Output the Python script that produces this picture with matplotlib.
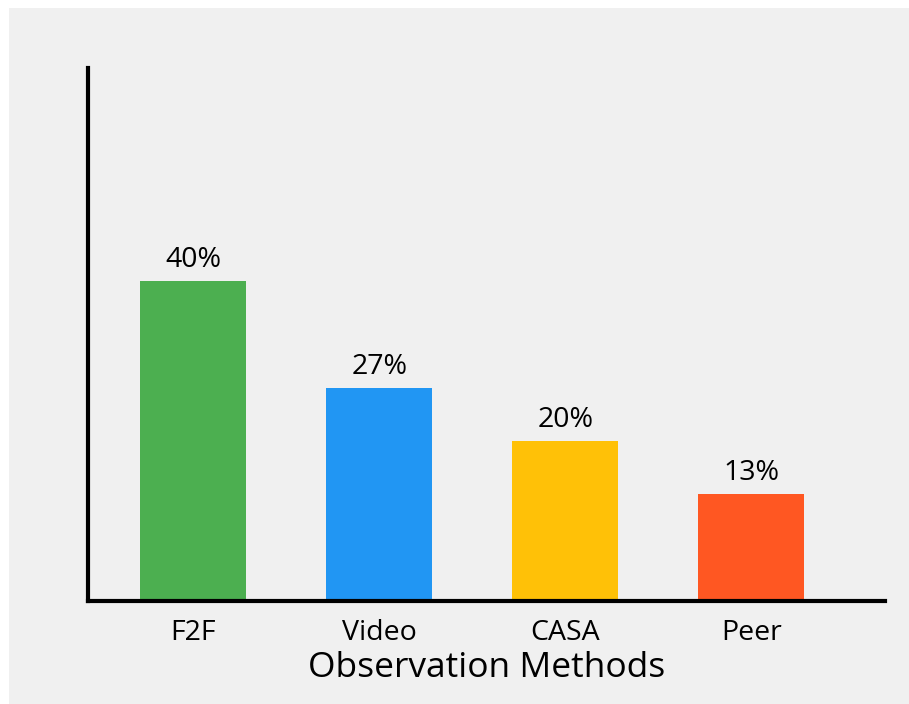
import matplotlib
matplotlib.use("Agg")
import matplotlib.pyplot as plt
from matplotlib.patches import Rectangle

categories = ["F2F", "Video", "CASA", "Peer"]
counts = [6, 4, 3, 2]
total = 15
colors = ["#4CAF50", "#2196F3", "#FFC107", "#FF5722"]
xlabel = "Observation Methods"

plt.rcParams['font.family'] = ['Open Sans', 'DejaVu Sans']

fig = plt.figure(figsize=(9.09, 7.04), dpi=100, facecolor="white")
bg = "#f0f0f0"
fig.patches.append(Rectangle((9/909, 0), 1, 1 - 8/704, transform=fig.transFigure,
                             facecolor=bg, edgecolor="none", zorder=-10))

ax = fig.add_axes([88/909, (704-601)/704, (885-88)/909, (601-68)/704])
ax.set_facecolor("none")

x = list(range(len(categories)))
bars = ax.bar(x, counts, width=0.57, color=colors)
for xi, c in zip(x, counts):
    ax.text(xi, c + 0.13, f"{round(100*c/total)}%", ha="center", va="bottom", fontsize=20.5)

ax.set_xlim(-0.565, 3.718)
ax.set_ylim(0, 10)
ax.set_xticks(x)
ax.set_xticklabels(categories, fontsize=20.5)
ax.tick_params(axis="x", length=0, pad=13)
ax.set_yticks([])
ax.set_xlabel(xlabel, fontsize=25.5, labelpad=3)

for s in ["top", "right"]:
    ax.spines[s].set_visible(False)
for s in ["left", "bottom"]:
    ax.spines[s].set_linewidth(3)
    ax.spines[s].set_color("black")

fig.savefig("out.png", dpi=100, facecolor="white")
